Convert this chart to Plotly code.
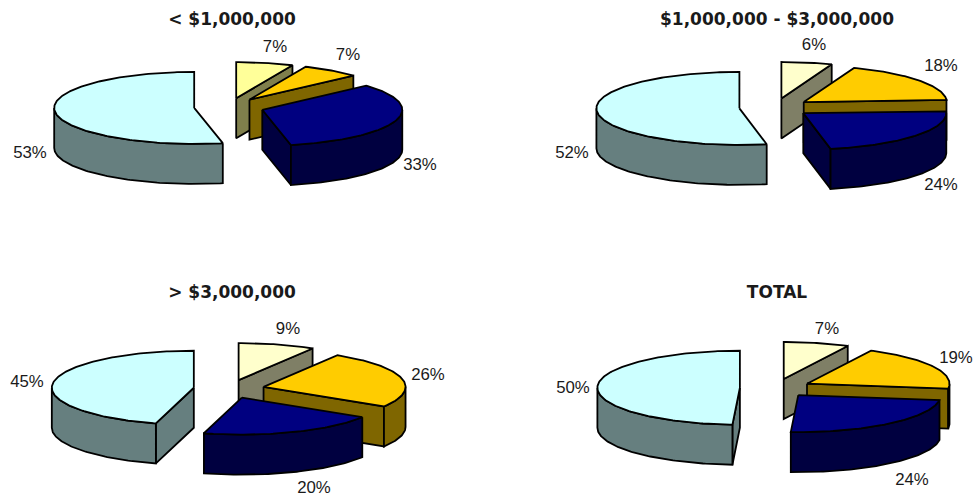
import math
import plotly.graph_objects as go

# ---- data ----
pie_titles = ["< $1,000,000", "$1,000,000 - $3,000,000", "> $3,000,000", "TOTAL"]
small_values = [7, 7, 33, 53]
mid_values = [6, 18, 24, 52]
large_values = [9, 26, 20, 45]
total_values = [7, 19, 24, 50]

# ---- layout / style (pixels on a 974x496 canvas) ----
W, H = 974, 496
DEPTH = 40
EXPLODE = 0.25
COLORS = ["#FFFFCC", "#FFCC00", "#000080", "#CCFFFF"]
PIES = [
    dict(vals=small_values, cx=229, cy=107, rx=140, ry=36, first="#FFFF99", nudge=[-1.5, -2.5, -1],
         title=(232, 21), labels=[(275, 48), (348, 56), (420, 166), (30, 154)]),
    dict(vals=mid_values, cx=775, cy=107.5, rx=143, ry=36.5, first="#FFFFCC", nudge=[-1, 0, -3.8],
         title=(777, 21), labels=[(814, 46), (941, 67), (941, 186), (572, 154)]),
    dict(vals=large_values, cx=229, cy=389, rx=142, ry=37, first="#FFFFCC", nudge=[-1, -4, -2.5],
         title=(232, 294), labels=[(288, 330), (428, 376), (314, 489), (27, 383)]),
    dict(vals=total_values, cx=775.5, cy=388, rx=142.5, ry=37, first="#FFFFCC", nudge=[1.5, 4, 3],
         title=(777, 294), labels=[(827, 330), (956, 359), (912, 481), (573, 389)]),
]


def darker(hex_color):
    r, g, b = (int(hex_color[i:i + 2], 16) for i in (1, 3, 5))
    return f"#{r // 2:02X}{g // 2:02X}{b // 2:02X}"


fig = go.Figure()


def face(xs, ys, color):
    fig.add_trace(go.Scatter(
        x=xs + xs[:1], y=ys + ys[:1], mode="lines", fill="toself", fillcolor=color,
        line=dict(color="#000000", width=1.8), hoverinfo="skip", showlegend=False))


for pie in PIES:
    vals = pie["vals"]
    total = sum(vals)
    bounds = [0.0]
    for v in vals:
        bounds.append(bounds[-1] + 360 * v / total)
    for i, n in enumerate(pie["nudge"]):
        bounds[i + 1] += n
    rx, ry = pie["rx"], pie["ry"]

    for i in range(len(vals)):
        a0, a1 = bounds[i], bounds[i + 1]
        mid = math.radians((a0 + a1) / 2)
        ax = pie["cx"] + EXPLODE * rx * math.sin(mid)
        ay = pie["cy"] - EXPLODE * ry * math.cos(mid)

        def rim(deg):
            t = math.radians(deg)
            return ax + rx * math.sin(t), ay - ry * math.cos(t)

        top = COLORS[i] if i else pie["first"]
        side = darker(top)
        n = max(2, int(a1 - a0))
        angles = [a0 + (a1 - a0) * k / n for k in range(n + 1)]

        # radial faces that turn towards the viewer
        for ang, phi in ((a0, a0 - 90), (a1, a1 + 90)):
            if math.cos(math.radians(phi)) < -1e-6:
                x, y = rim(ang)
                face([ax, x, x, ax], [ay, y, y + DEPTH, ay + DEPTH], side)

        # outer wall, front half only
        front = [a for a in angles if 90 <= a % 360 <= 270]
        lo, hi = max(a0, 90), min(a1, 270)
        if hi > lo:
            front = [lo] + [a for a in front if lo < a < hi] + [hi]
            pts = [rim(a) for a in front]
            face([p[0] for p in pts] + [p[0] for p in reversed(pts)],
                 [p[1] for p in pts] + [p[1] + DEPTH for p in reversed(pts)], side)

        # top surface
        pts = [rim(a) for a in angles]
        face([ax] + [p[0] for p in pts], [ay] + [p[1] for p in pts], top)

    fig.add_trace(go.Scatter(
        x=[p[0] for p in pie["labels"]], y=[p[1] for p in pie["labels"]],
        text=[f"{v}%" for v in vals], mode="text", textposition="middle center",
        textfont=dict(family="Liberation Sans", size=16.8, color="#1A1A1A"),
        hoverinfo="skip", showlegend=False))

for pie, title in zip(PIES, pie_titles):
    fig.add_trace(go.Scatter(
        x=[pie["title"][0]], y=[pie["title"][1]], text=[f"<b>{title}</b>"],
        mode="text", textposition="middle center",
        textfont=dict(family="DejaVu Sans", size=17, color="#1A1A1A"),
        hoverinfo="skip", showlegend=False))

fig.update_layout(
    width=W, height=H, margin=dict(l=0, r=0, t=0, b=0),
    paper_bgcolor="white", plot_bgcolor="white", showlegend=False,
    xaxis=dict(range=[0, W], visible=False, fixedrange=True),
    yaxis=dict(range=[H, 0], visible=False, fixedrange=True),
)
fig.write_html(
    "out.html",
    config=dict(displayModeBar=False),
    post_script="document.body.style.margin='0';document.body.style.overflow='hidden';",
)
